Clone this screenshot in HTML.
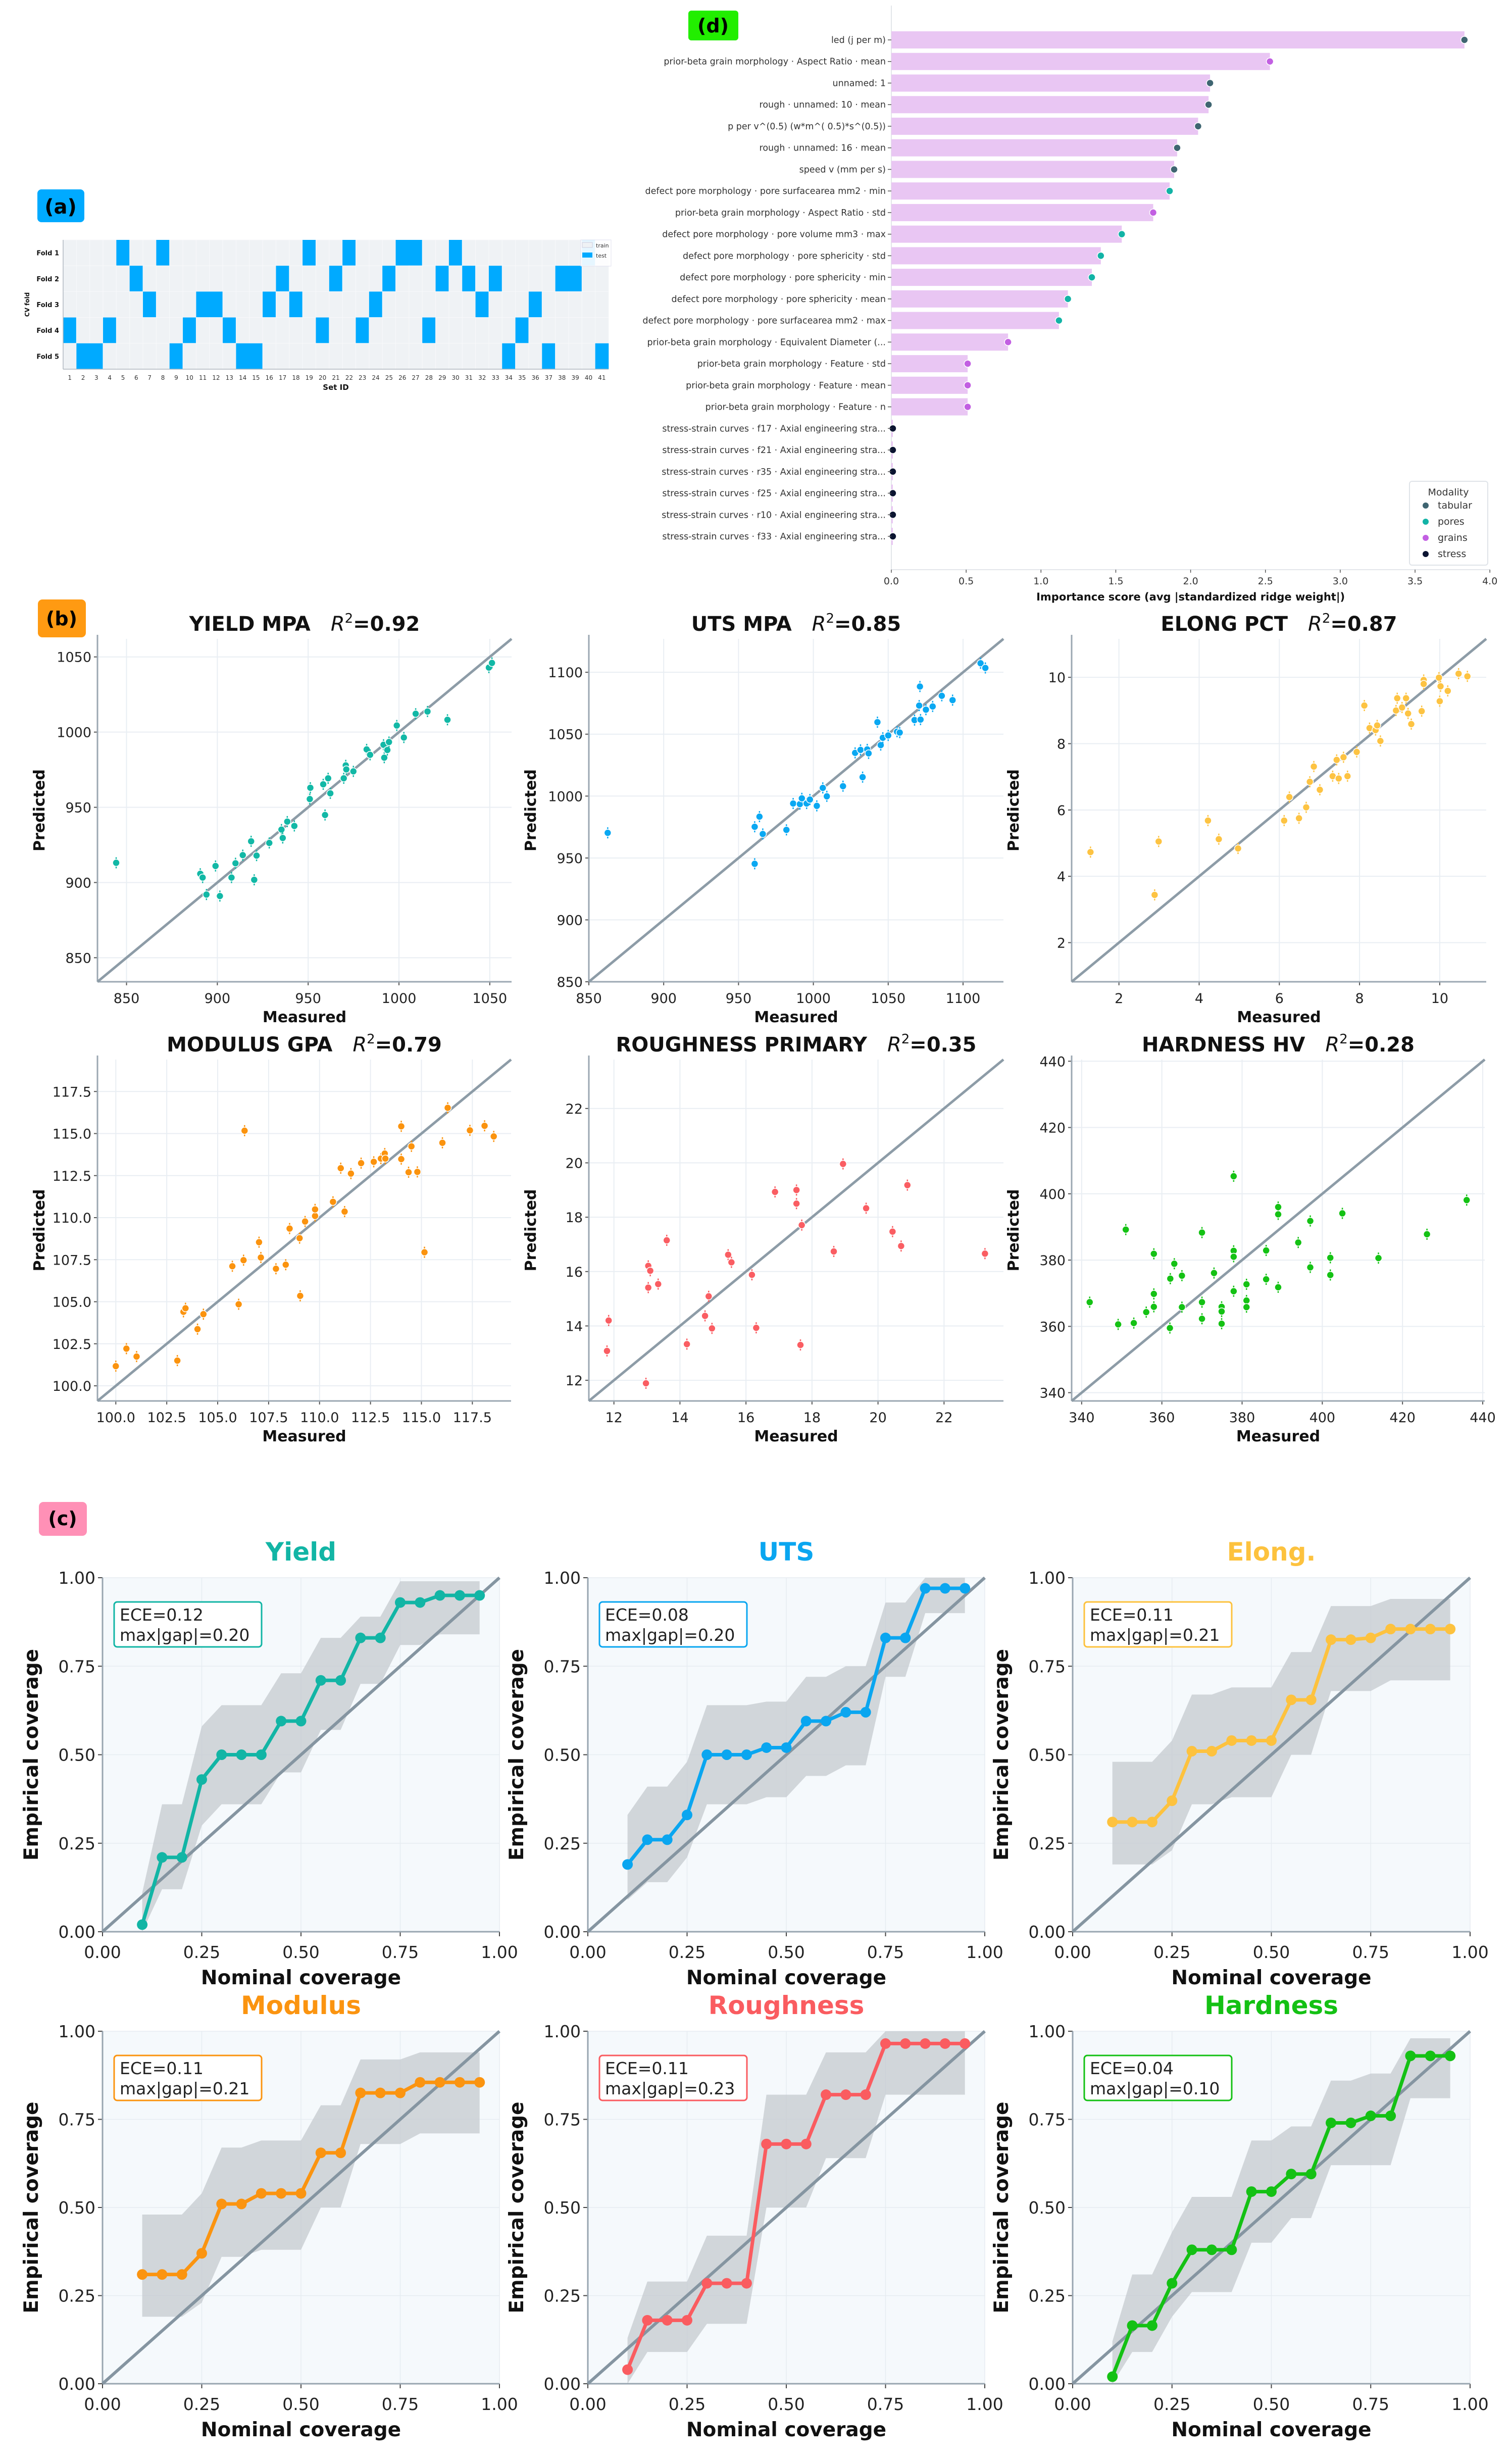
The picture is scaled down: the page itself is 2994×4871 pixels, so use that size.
<!DOCTYPE html>
<html><head><meta charset="utf-8">
<style>
html,body{margin:0;padding:0;background:#fff;}
svg{display:block;font-family:"DejaVu Sans","Liberation Sans",sans-serif;}
</style></head>
<body>
<svg id="fig" width="2994" height="4871" viewBox="0 0 2994 4871" xmlns="http://www.w3.org/2000/svg"></svg>
<script>
// ---------- Panel (a) data ----------
const foldNames = ["Fold 1","Fold 2","Fold 3","Fold 4","Fold 5"];
const setIds = Array.from({length:41},(_,i)=>i+1);
const fold1Test = [5,8,19,22,26,27,30,40];
const fold2Test = [6,17,21,25,29,31,33,38,39];
const fold3Test = [7,11,12,16,18,24,32,36];
const fold4Test = [1,4,10,13,20,23,28,35];
const fold5Test = [2,3,9,14,15,34,37,41];
// ---------- Panel (d) data ----------
const featLabels = ["led (j per m)","prior-beta grain morphology · Aspect Ratio · mean","unnamed: 1","rough · unnamed: 10 · mean","p per v^(0.5) (w*m^( 0.5)*s^(0.5))","rough · unnamed: 16 · mean","speed v (mm per s)","defect pore morphology · pore surfacearea mm2 · min","prior-beta grain morphology · Aspect Ratio · std","defect pore morphology · pore volume mm3 · max","defect pore morphology · pore sphericity · std","defect pore morphology · pore sphericity · min","defect pore morphology · pore sphericity · mean","defect pore morphology · pore surfacearea mm2 · max","prior-beta grain morphology · Equivalent Diameter (...","prior-beta grain morphology · Feature · std","prior-beta grain morphology · Feature · mean","prior-beta grain morphology · Feature · n","stress-strain curves · f17 · Axial engineering stra...","stress-strain curves · f21 · Axial engineering stra...","stress-strain curves · r35 · Axial engineering stra...","stress-strain curves · f25 · Axial engineering stra...","stress-strain curves · r10 · Axial engineering stra...","stress-strain curves · f33 · Axial engineering stra..."];
const featImportance = [3.83,2.53,2.13,2.12,2.05,1.91,1.89,1.86,1.75,1.54,1.40,1.34,1.18,1.12,0.78,0.51,0.51,0.51,0.01,0.01,0.01,0.01,0.01,0.01];
const featModality = ["tabular","grains","tabular","tabular","tabular","tabular","tabular","pores","grains","pores","pores","pores","pores","pores","grains","grains","grains","grains","stress","stress","stress","stress","stress","stress"];
const importanceTicks = [0,0.5,1.0,1.5,2.0,2.5,3.0,3.5,4.0];
// ---------- Panel (b) data ----------
const yieldMeasured = [844.3,890.6,891.9,894,899,901.4,907.8,910,914,918.6,920.3,921.6,928.6,935.3,936,938.5,942.4,950.9,951.2,958.3,959.3,961,962.2,969.6,970.7,971,974.9,982.2,984.1,991.5,991.9,993.6,994.5,998.8,1002.7,1009.2,1015.7,1026.7,1049.5,1051.2];
const yieldPredicted = [913.1,905.8,903.3,892,911,891,903.3,912.8,918.2,927.4,901.8,917.9,926.3,935.2,929.6,940.5,937.6,955.5,963,965.3,944.9,969.3,959.3,969.3,977.9,975.2,973.9,988.5,984.9,991.6,983,988.1,993.4,1004.4,996.4,1012.2,1013.7,1008.2,1042.9,1046];
const utsMeasured = [862.6,960.8,964,966.2,960.8,982,986.5,991,992.3,995.5,997.7,1002.3,1006.3,1009,1019.8,1032.9,1027.9,1031.5,1036,1036.9,1042.8,1045,1046.4,1050,1055.9,1057.7,1067.6,1071.6,1070.7,1075.2,1079.7,1071.2,1085.8,1093,1111.7,1114.9];
const utsPredicted = [970.3,975.2,983.4,969.4,945.3,972.7,994,993.5,998.2,994,997.2,992.1,1006.6,999.8,1008,1015.3,1034.9,1037.3,1037.7,1034.5,1059.7,1041.2,1047.1,1049,1052,1051.3,1061.4,1061.8,1073.1,1069.8,1072.4,1088.5,1081,1077.5,1107.3,1103.5];
const elongMeasured = [1.29,2.89,2.99,4.22,4.49,4.97,6.12,6.25,6.49,6.67,6.76,6.86,7.01,7.33,7.43,7.48,7.6,7.7,7.93,8.12,8.25,8.4,8.44,8.52,8.91,8.94,9.06,9.16,9.21,9.29,9.55,9.6,9.6,9.98,10.0,10.02,10.2,10.47,10.69];
const elongPredicted = [4.73,3.44,5.05,5.68,5.12,4.84,5.68,6.39,5.75,6.08,6.85,7.31,6.61,7.02,7.51,6.95,7.59,7.02,7.75,9.15,8.47,8.41,8.55,8.08,9.0,9.37,9.09,9.37,8.91,8.59,8.98,9.92,9.8,9.99,9.28,9.73,9.59,10.11,10.03];
const modulusMeasured = [100.0,100.52,101.02,103.02,103.32,103.42,104.01,104.3,105.72,106.03,106.27,106.32,107.03,107.12,107.86,108.34,108.53,109.02,109.05,109.29,109.78,109.78,110.66,111.04,111.23,111.54,112.04,112.66,113.01,113.2,113.23,114.01,114.01,114.37,114.51,114.8,115.15,116.03,116.29,117.38,118.1,118.55];
const modulusPredicted = [101.17,102.21,101.74,101.5,104.4,104.61,103.37,104.26,107.11,104.85,107.47,115.17,108.54,107.63,106.96,107.2,109.35,108.78,105.35,109.77,110.1,110.49,110.94,112.94,110.36,112.62,113.24,113.32,113.51,113.81,113.51,115.43,113.48,112.7,114.24,112.72,107.94,114.45,116.53,115.19,115.46,114.83];
const roughMeasured = [11.79,11.84,12.97,13.04,13.1,13.04,13.34,13.6,14.21,14.76,14.87,14.97,15.46,15.56,16.18,16.31,16.88,17.53,17.53,17.69,17.65,18.66,18.94,19.64,20.44,20.7,20.89,23.24];
const roughPredicted = [13.08,14.2,11.89,16.21,16.03,15.41,15.54,17.15,13.33,14.37,15.09,13.91,16.62,16.34,15.88,13.93,18.93,19.0,18.5,17.71,13.3,16.74,19.96,18.33,17.47,16.94,19.18,16.66];
const hardMeasured = [342,349.1,351,353,356.1,358,358,358,362,362.1,363.1,365,365,370,370,370,373,374.9,374.9,374.9,377.9,377.9,377.9,377.9,381.1,381.1,381.1,386,386,389,389,389,394,397,397,402,402,405,414,426.1,436];
const hardPredicted = [367.3,360.6,389.2,361,364.3,365.9,369.8,381.9,359.5,374.4,378.9,365.8,375.3,367.3,362.3,388.3,376.1,365.9,364.5,360.8,405.3,382.8,381,370.6,372.7,367.8,365.8,382.9,374.2,396,393.8,371.8,385.3,391.8,377.8,380.7,375.5,394.1,380.6,387.8,398.1];
// ---------- Panel (c) data ----------
const nominalLevels = [0.10,0.15,0.20,0.25,0.30,0.35,0.40,0.45,0.50,0.55,0.60,0.65,0.70,0.75,0.80,0.85,0.90,0.95];
const yieldCov = [0.02,0.21,0.21,0.43,0.50,0.50,0.50,0.595,0.595,0.71,0.71,0.83,0.83,0.93,0.93,0.95,0.95,0.95];
const yieldHi = [0.11,0.36,0.36,0.58,0.64,0.64,0.64,0.73,0.73,0.83,0.83,0.89,0.89,0.99,0.99,0.99,0.99,0.99];
const yieldLo = [0.0,0.12,0.12,0.30,0.36,0.36,0.36,0.45,0.45,0.57,0.57,0.70,0.70,0.81,0.81,0.84,0.84,0.84];
const utsCov = [0.19,0.26,0.26,0.33,0.50,0.50,0.50,0.52,0.52,0.595,0.595,0.62,0.62,0.83,0.83,0.97,0.97,0.97];
const utsHi = [0.33,0.41,0.41,0.48,0.64,0.64,0.64,0.65,0.65,0.72,0.72,0.75,0.75,0.93,0.93,1.0,1.0,1.0];
const utsLo = [0.09,0.14,0.14,0.21,0.36,0.36,0.36,0.38,0.38,0.44,0.44,0.47,0.47,0.72,0.72,0.90,0.90,0.90];
const elongCov = [0.31,0.31,0.31,0.37,0.51,0.51,0.54,0.54,0.54,0.655,0.655,0.825,0.825,0.83,0.855,0.855,0.855,0.855];
const elongHi = [0.48,0.48,0.48,0.54,0.67,0.67,0.69,0.69,0.69,0.79,0.79,0.92,0.92,0.92,0.94,0.94,0.94,0.94];
const elongLo = [0.19,0.19,0.19,0.23,0.36,0.36,0.38,0.38,0.38,0.50,0.50,0.68,0.68,0.68,0.71,0.71,0.71,0.71];
const modulusCov = [0.31,0.31,0.31,0.37,0.51,0.51,0.54,0.54,0.54,0.655,0.655,0.825,0.825,0.825,0.855,0.855,0.855,0.855];
const modulusHi = [0.48,0.48,0.48,0.54,0.67,0.67,0.69,0.69,0.69,0.79,0.79,0.92,0.92,0.92,0.94,0.94,0.94,0.94];
const modulusLo = [0.19,0.19,0.19,0.23,0.36,0.36,0.38,0.38,0.38,0.50,0.50,0.68,0.68,0.68,0.71,0.71,0.71,0.71];
const roughCov = [0.04,0.18,0.18,0.18,0.285,0.285,0.285,0.68,0.68,0.68,0.82,0.82,0.82,0.965,0.965,0.965,0.965,0.965];
const roughHi = [0.13,0.29,0.29,0.29,0.42,0.42,0.42,0.82,0.82,0.82,0.94,0.94,0.94,1.0,1.0,1.0,1.0,1.0];
const roughLo = [0.0,0.09,0.09,0.09,0.17,0.17,0.17,0.50,0.50,0.50,0.64,0.64,0.64,0.82,0.82,0.82,0.82,0.82];
const hardCov = [0.02,0.165,0.165,0.285,0.38,0.38,0.38,0.545,0.545,0.595,0.595,0.74,0.74,0.76,0.76,0.93,0.93,0.93];
const hardHi = [0.12,0.31,0.31,0.43,0.53,0.53,0.53,0.69,0.69,0.73,0.73,0.86,0.86,0.88,0.88,0.98,0.98,0.98];
const hardLo = [0.0,0.09,0.09,0.19,0.26,0.26,0.26,0.40,0.40,0.47,0.47,0.62,0.62,0.62,0.62,0.81,0.81,0.81];
const eceValues = ["0.12","0.08","0.11","0.11","0.11","0.04"];
const maxGapValues = ["0.20","0.20","0.21","0.21","0.23","0.10"];
const coverageTicks = [0,0.25,0.5,0.75,1.0];

const NS='http://www.w3.org/2000/svg';
const svg=document.getElementById('fig');
function mk(tag,attrs,parent){const e=document.createElementNS(NS,tag);for(const k in attrs)e.setAttribute(k,attrs[k]);(parent||svg).appendChild(e);return e;}
function txt(s,attrs,parent){const t=mk('text',attrs,parent);t.textContent=s;return t;}

// ================= Panel (a) =================
(function(){
  const g=mk('g',{});
  
  
  const lb=mk('rect',{x:74,y:375,width:93,height:65,rx:8,fill:'#00aaff'},g);
  
  
  const lt=txt('(a)',{x:120,y:423,'text-anchor':'middle','font-size':40,'font-weight':'bold',fill:'#000'},g);
  
  
  const L=125,R=1205,T=475,B=731;
  const cw=(R-L)/setIds.length, rh=(B-T)/foldNames.length;
  const folds=[fold1Test,fold2Test,fold3Test,fold4Test,fold5Test];
  folds.forEach((tests,fi)=>{
    setIds.forEach((id,ci)=>{
      const isTest=tests.includes(id);
      const c=mk('rect',{x:L+ci*cw,y:T+fi*rh,width:cw+0.3,height:rh+0.3,fill:isTest?'#00aaff':'#eff2f5',stroke:isTest?'none':'#f8f9fb','stroke-width':1},g);
      
      
    });
    const fl=txt(foldNames[fi],{x:L-8,y:T+fi*rh+rh/2+5,'text-anchor':'end','font-size':13,'font-weight':'bold',fill:'#111'},g);
    
    
  });
  setIds.forEach((id,ci)=>{
    const t=txt(String(id),{x:L+ci*cw+cw/2,y:752,'text-anchor':'middle','font-size':12,fill:'#333'},g);
    
    
  });
  mk('line',{x1:L,y1:B,x2:R,y2:B,stroke:'#b0b8c0','stroke-width':1.5},g);
  mk('line',{x1:L,y1:T,x2:L,y2:B,stroke:'#b0b8c0','stroke-width':1.5},g);
  const xl=txt('Set ID',{x:(L+R)/2,y:772,'text-anchor':'middle','font-size':15,'font-weight':'bold',fill:'#111'},g);
  
  
  const yl=txt('CV fold',{x:0,y:0,transform:'translate(58 603) rotate(-90)','text-anchor':'middle','font-size':12,'font-weight':'bold',fill:'#111'},g);
  
  
  const lg=mk('g',{},g);
  
  
  mk('rect',{x:1150,y:475,width:60,height:52,fill:'#fff',stroke:'#dde',opacity:0.9},lg);
  mk('rect',{x:1153,y:480,width:20,height:10,fill:'#eff2f5',stroke:'#ccd'},lg);
  txt('train',{x:1180,y:490,'font-size':11,fill:'#333'},lg);
  mk('rect',{x:1153,y:500,width:20,height:10,fill:'#00aaff'},lg);
  txt('test',{x:1180,y:510,'font-size':11,fill:'#333'},lg);
})();

// ================= Panel (d) =================
(function(){
  const g=mk('g',{});
  
  
  mk('rect',{x:1212,y:0,width:1782,height:1200,fill:'#fff'},g);
  const lb=mk('rect',{x:1363,y:21,width:99,height:59,rx:6,fill:'#22ee00'},g);
  
  
  const lt=txt('(d)',{x:1412,y:64,'text-anchor':'middle','font-size':38,'font-weight':'bold',fill:'#000'},g);
  
  
  const X0=1765, PX=296.3, Y0=79, DY=42.74, BH=34, AB=1128, AT=11;
  const xs=v=>X0+v*PX;
  const modColor={tabular:'#3f6571',pores:'#12b3a6',grains:'#c25fe2',stress:'#0b1431'};
  mk('line',{x1:X0,y1:AT,x2:X0,y2:AB,stroke:'#e3e6ea','stroke-width':2},g);
  mk('line',{x1:X0,y1:AB,x2:xs(4.0),y2:AB,stroke:'#e3e6ea','stroke-width':2},g);
  featLabels.forEach((lab,i)=>{
    const y=Y0+i*DY;
    const b=mk('rect',{x:X0,y:y-BH/2,width:Math.max(0,xs(featImportance[i])-X0),height:BH,fill:'#e9c6f3'},g);
    
    
    const d=mk('circle',{cx:xs(featImportance[i]),cy:y,r:7,fill:modColor[featModality[i]],stroke:'#fff','stroke-width':1.5},g);
    
    
    mk('line',{x1:X0-7,y1:y,x2:X0,y2:y,stroke:'#555','stroke-width':1.5},g);
    const t=txt(lab,{x:X0-11,y:y+6,'text-anchor':'end','font-size':17.5,fill:'#333'},g);
    
    
  });
  importanceTicks.forEach(v=>{
    mk('line',{x1:xs(v),y1:AB,x2:xs(v),y2:AB+6,stroke:'#555','stroke-width':1.5},g);
    const t=txt(v.toFixed(1),{x:xs(v),y:AB+29,'text-anchor':'middle','font-size':19,fill:'#333'},g);
    
    
  });
  const xt=txt('Importance score (avg |standardized ridge weight|)',{x:xs(2.0),y:1189,'text-anchor':'middle','font-size':21,'font-weight':'bold',fill:'#111'},g);
  
  
  const lg=mk('g',{},g);
  
  
  mk('rect',{x:2791,y:953,width:155,height:166,rx:5,fill:'#fff',stroke:'#dfe3e8','stroke-width':2},lg);
  txt('Modality',{x:2868,y:981,'text-anchor':'middle','font-size':19,fill:'#333'},lg);
  ['tabular','pores','grains','stress'].forEach((m,i)=>{
    const y=1007+i*32;
    mk('circle',{cx:2823,cy:y-6,r:6,fill:modColor[m]},lg);
    const t=txt(m,{x:2847,y:y,'font-size':19,fill:'#333'},lg);
    
    
  });
})();

// ================= Panel (b) =================
(function(){
  const lb=mk('rect',{x:75,y:1187,width:95,height:75,rx:9,fill:'#ff9a12'});
  
  
  const lt=txt('(b)',{x:122,y:1238,'text-anchor':'middle','font-size':38,'font-weight':'bold',fill:'#000'});
  
  
  const panels=[
    {name:'yield',title:'YIELD MPA',r2:'0.92',color:'#12b8a6',L:193,R:1013,T:1265,B:1944,d:[834,1062],ticks:[850,900,950,1000,1050],fmt:0,mx:yieldMeasured,py:yieldPredicted},
    {name:'uts',title:'UTS MPA',r2:'0.85',color:'#0aa8f2',L:1166,R:1987,T:1265,B:1944,d:[850,1127],ticks:[850,900,950,1000,1050,1100],fmt:0,mx:utsMeasured,py:utsPredicted},
    {name:'elong',title:'ELONG PCT',r2:'0.87',color:'#fdc342',L:2122,R:2943,T:1265,B:1944,d:[0.82,11.16],ticks:[2,4,6,8,10],fmt:0,mx:elongMeasured,py:elongPredicted},
    {name:'modulus',title:'MODULUS GPA',r2:'0.79',color:'#fb930e',L:193,R:1012,T:2098,B:2774,d:[99.1,119.4],ticks:[100,102.5,105,107.5,110,112.5,115,117.5],fmt:1,mx:modulusMeasured,py:modulusPredicted},
    {name:'roughness',title:'ROUGHNESS PRIMARY',r2:'0.35',color:'#fa5d62',L:1166,R:1987,T:2098,B:2774,d:[11.24,23.8],ticks:[12,14,16,18,20,22],fmt:0,mx:roughMeasured,py:roughPredicted},
    {name:'hardness',title:'HARDNESS HV',r2:'0.28',color:'#14c214',L:2122,R:2940,T:2098,B:2774,d:[337.5,440.5],ticks:[340,360,380,400,420,440],fmt:0,mx:hardMeasured,py:hardPredicted}
  ];
  panels.forEach(p=>{
    const g=mk('g',{});
    
    
    const sx=v=>p.L+(v-p.d[0])/(p.d[1]-p.d[0])*(p.R-p.L);
    const sy=v=>p.B-(v-p.d[0])/(p.d[1]-p.d[0])*(p.B-p.T);
    p.ticks.forEach(t=>{
      mk('line',{x1:sx(t),y1:p.T,x2:sx(t),y2:p.B,stroke:'#e9eef3','stroke-width':2},g);
      mk('line',{x1:p.L,y1:sy(t),x2:p.R,y2:sy(t),stroke:'#e9eef3','stroke-width':2},g);
      mk('line',{x1:sx(t),y1:p.B,x2:sx(t),y2:p.B+7,stroke:'#555','stroke-width':2},g);
      mk('line',{x1:p.L-7,y1:sy(t),x2:p.L,y2:sy(t),stroke:'#555','stroke-width':2},g);
      const xt=txt(t.toFixed(p.fmt),{x:sx(t),y:p.B+42,'text-anchor':'middle','font-size':27,fill:'#222'},g);
      
      
      const yt=txt(t.toFixed(p.fmt),{x:p.L-12,y:sy(t)+10,'text-anchor':'end','font-size':27,fill:'#222'},g);
      
      
    });
    mk('line',{x1:p.L,y1:p.T-8,x2:p.L,y2:p.B,stroke:'#9ba7b2','stroke-width':3},g);
    mk('line',{x1:p.L,y1:p.B,x2:p.R,y2:p.B,stroke:'#9ba7b2','stroke-width':3},g);
    const diag=mk('line',{x1:sx(p.d[0]),y1:sy(p.d[0]),x2:sx(p.d[1]),y2:sy(p.d[1]),stroke:'#8d9ca7','stroke-width':5},g);
    
    
    p.mx.forEach((m,i)=>{
      const cx=sx(m), cy=sy(p.py[i]);
      mk('line',{x1:cx,y1:cy-11,x2:cx,y2:cy+11,stroke:p.color,'stroke-width':2.5},g);
      const c=mk('circle',{cx:cx,cy:cy,r:7,fill:p.color,stroke:'#fff','stroke-width':1.5},g);
      
      
    });
    const cx=(p.L+p.R)/2;
    const tt=txt('',{x:cx,y:p.T-16,'text-anchor':'middle','font-size':40,'font-weight':'bold',fill:'#111'},g);
    
    
    const s1=mk('tspan',{},tt); s1.textContent=p.title+'\u2003';
    const s2=mk('tspan',{'font-style':'italic','font-weight':'normal'},tt); s2.textContent='R';
    const s3=mk('tspan',{'font-size':26,dy:-16,'font-weight':'normal'},tt); s3.textContent='2';
    const s4=mk('tspan',{dy:16},tt); s4.textContent='='+p.r2;
    const xl=txt('Measured',{x:cx,y:p.B+80,'text-anchor':'middle','font-size':30,'font-weight':'bold',fill:'#111'},g);
    
    
    const my=(p.T+p.B)/2;
    const yl=txt('Predicted',{x:0,y:0,transform:`translate(${p.L-105} ${my}) rotate(-90)`,'text-anchor':'middle','font-size':30,'font-weight':'bold',fill:'#111'},g);
    
    
  });
})();

// ================= Panel (c) =================
(function(){
  const lb=mk('rect',{x:77,y:2974,width:95,height:67,rx:9,fill:'#ff90b6'});
  
  
  const lt=txt('(c)',{x:124,y:3020,'text-anchor':'middle','font-size':38,'font-weight':'bold',fill:'#000'});
  
  
  const cols=[[203,989],[1164,1950],[2124,2911]], rows=[[3124,3825],[4022,4720]];
  const panels=[
    {name:'yield',title:'Yield',color:'#12b5a5',cov:yieldCov,hi:yieldHi,lo:yieldLo},
    {name:'uts',title:'UTS',color:'#0aa6f0',cov:utsCov,hi:utsHi,lo:utsLo},
    {name:'elong',title:'Elong.',color:'#fdc23e',cov:elongCov,hi:elongHi,lo:elongLo},
    {name:'modulus',title:'Modulus',color:'#fb9410',cov:modulusCov,hi:modulusHi,lo:modulusLo},
    {name:'roughness',title:'Roughness',color:'#fa5c60',cov:roughCov,hi:roughHi,lo:roughLo},
    {name:'hardness',title:'Hardness',color:'#14c114',cov:hardCov,hi:hardHi,lo:hardLo}
  ];
  panels.forEach((p,k)=>{
    const [L,R]=cols[k%3], [T,B]=rows[Math.floor(k/3)];
    const g=mk('g',{});
    
    
    const sx=v=>L+v*(R-L), sy=v=>B-v*(B-T);
    mk('rect',{x:L,y:T,width:R-L,height:B-T,fill:'#f5f9fc'},g);
    coverageTicks.forEach(t=>{
      mk('line',{x1:sx(t),y1:T,x2:sx(t),y2:B,stroke:'#e6ecf1','stroke-width':1.5},g);
      mk('line',{x1:L,y1:sy(t),x2:R,y2:sy(t),stroke:'#e6ecf1','stroke-width':1.5},g);
      mk('line',{x1:sx(t),y1:B,x2:sx(t),y2:B+9,stroke:'#444','stroke-width':2},g);
      mk('line',{x1:L-9,y1:sy(t),x2:L,y2:sy(t),stroke:'#444','stroke-width':2},g);
      const xt=txt(t.toFixed(2),{x:sx(t),y:B+52,'text-anchor':'middle','font-size':33,fill:'#222'},g);
      
      
      const yt=txt(t.toFixed(2),{x:L-14,y:sy(t)+12,'text-anchor':'end','font-size':33,fill:'#222'},g);
      
      
    });
    let pts=nominalLevels.map((n,i)=>`${sx(n)},${sy(p.hi[i])}`);
    for(let i=nominalLevels.length-1;i>=0;i--) pts.push(`${sx(nominalLevels[i])},${sy(p.lo[i])}`);
    const band=mk('polygon',{points:pts.join(' '),fill:'#c4c9cf','fill-opacity':0.75},g);
    
    
    mk('line',{x1:L,y1:T,x2:L,y2:B,stroke:'#98a5b0','stroke-width':3},g);
    mk('line',{x1:L,y1:B,x2:R,y2:B,stroke:'#98a5b0','stroke-width':3},g);
    const diag=mk('line',{x1:sx(0),y1:sy(0),x2:sx(1),y2:sy(1),stroke:'#8595a1','stroke-width':6},g);
    
    
    const line=mk('polyline',{points:nominalLevels.map((n,i)=>`${sx(n)},${sy(p.cov[i])}`).join(' '),fill:'none',stroke:p.color,'stroke-width':7,'stroke-linejoin':'round'},g);
    
    
    nominalLevels.forEach((n,i)=>{
      const c=mk('circle',{cx:sx(n),cy:sy(p.cov[i]),r:10.5,fill:p.color},g);
      
      
    });
    const box=mk('rect',{x:L+23,y:T+48,width:292,height:89,rx:6,fill:'#fff',stroke:p.color,'stroke-width':3},g);
    
    
    const e1=txt('ECE='+eceValues[k],{x:L+34,y:T+85,'font-size':33,fill:'#222'},g);
    
    
    const e2=txt('max|gap|='+maxGapValues[k],{x:L+34,y:T+125,'font-size':33,fill:'#222'},g);
    
    
    const tt=txt(p.title,{x:(L+R)/2,y:T-34,'text-anchor':'middle','font-size':50,'font-weight':'bold',fill:p.color},g);
    
    
    const xl=txt('Nominal coverage',{x:(L+R)/2,y:B+104,'text-anchor':'middle','font-size':39,'font-weight':'bold',fill:'#111'},g);
    
    
    const yl=txt('Empirical coverage',{x:0,y:0,transform:`translate(${L-128} ${(T+B)/2}) rotate(-90)`,'text-anchor':'middle','font-size':39,'font-weight':'bold',fill:'#111'},g);
    
    
  });
})();
</script>
</body></html>
